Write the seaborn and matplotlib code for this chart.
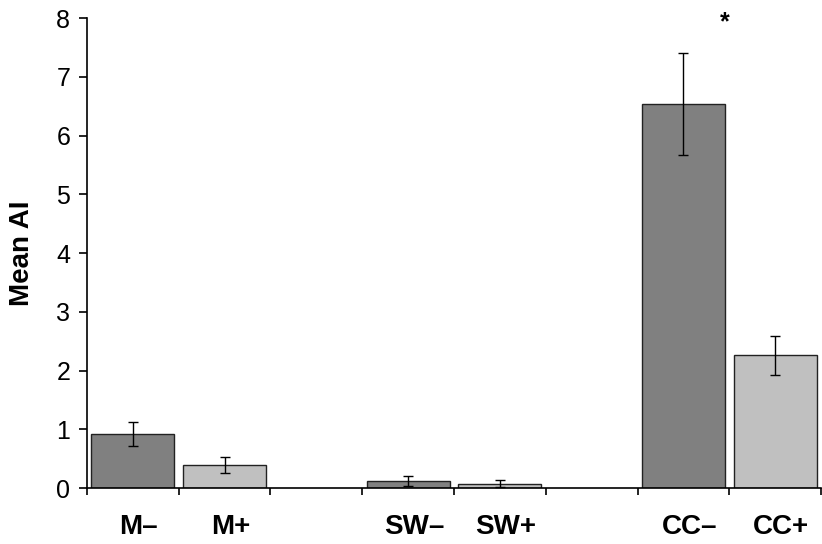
import numpy as np
import pandas as pd
import matplotlib
matplotlib.use("Agg")
import matplotlib.pyplot as plt
import matplotlib.transforms as mtransforms
import seaborn as sns

# -----------------------------
# Data
# -----------------------------
groups = ["M–", "M+", "", "SW–", "SW+", " ", "CC–", "CC+"]
bar_labels = ["M–", "M+", "SW–", "SW+", "CC–", "CC+"]
mean_ai = [0.92, 0.39, 0.12, 0.07, 6.53, 2.26]
sem = [0.20, 0.13, 0.085, 0.06, 0.87, 0.33]
shade = ["minus", "plus", "minus", "plus", "minus", "plus"]

df = pd.DataFrame({"group": bar_labels, "mean": mean_ai, "err": sem, "shade": shade})

sns.set_style("white")
plt.rcParams["font.family"] = ["Liberation Sans", "DejaVu Sans"]
plt.rcParams["text.color"] = "black"
plt.rcParams["xtick.color"] = "black"
plt.rcParams["ytick.color"] = "black"
plt.rcParams["axes.labelcolor"] = "black"

fig = plt.figure(figsize=(8.22, 5.44), dpi=100)
ax = fig.add_axes([0.1058, 0.1029, 0.893, 0.864])

sns.barplot(
    data=df, x="group", y="mean", hue="shade", order=groups,
    palette={"minus": "#808080", "plus": "#c0c0c0"},
    width=0.905, dodge=False, edgecolor="#222222", linewidth=1.0,
    legend=False, ax=ax,
)

# error bars on the same category positions
pos = [groups.index(g) for g in df["group"]]
ax.errorbar(pos, df["mean"], yerr=df["err"], fmt="none",
            ecolor="black", elinewidth=1.0, capsize=3.5, capthick=1.0)

ax.text(6.45, 7.93, "*", ha="center", va="center", fontsize=18,
        fontweight="bold", clip_on=False)

ax.set_xlim(-0.5, 7.5)
ax.set_ylim(0, 8)
ax.set_yticks(range(0, 9))
ax.tick_params(axis="y", labelsize=18, length=6, width=1.2, direction="out",
               left=True, pad=6)

# ticks between the categories, labels under the bars
ax.set_xticks(np.arange(-0.5, 8, 1))
ax.set_xticklabels([])
ax.set_xticks(range(len(groups)), minor=True)
ax.set_xticklabels(groups, minor=True, fontsize=20, fontweight="bold")
ax.tick_params(axis="x", which="major", length=5, width=1.2, bottom=True)
ax.tick_params(axis="x", which="minor", length=0, pad=19)

# nudge category labels slightly right, as in the original
shift = mtransforms.ScaledTranslation(6 / 100, 0, fig.dpi_scale_trans)
for lbl in ax.get_xticklabels(minor=True):
    lbl.set_transform(lbl.get_transform() + shift)

ax.set_xlabel("")
ax.set_ylabel("Mean AI", fontsize=20, fontweight="bold", labelpad=15)

for s in ["top", "right"]:
    ax.spines[s].set_visible(False)
for s in ["left", "bottom"]:
    ax.spines[s].set_color("black")
    ax.spines[s].set_linewidth(1.2)

fig.savefig("out.png", dpi=100)
